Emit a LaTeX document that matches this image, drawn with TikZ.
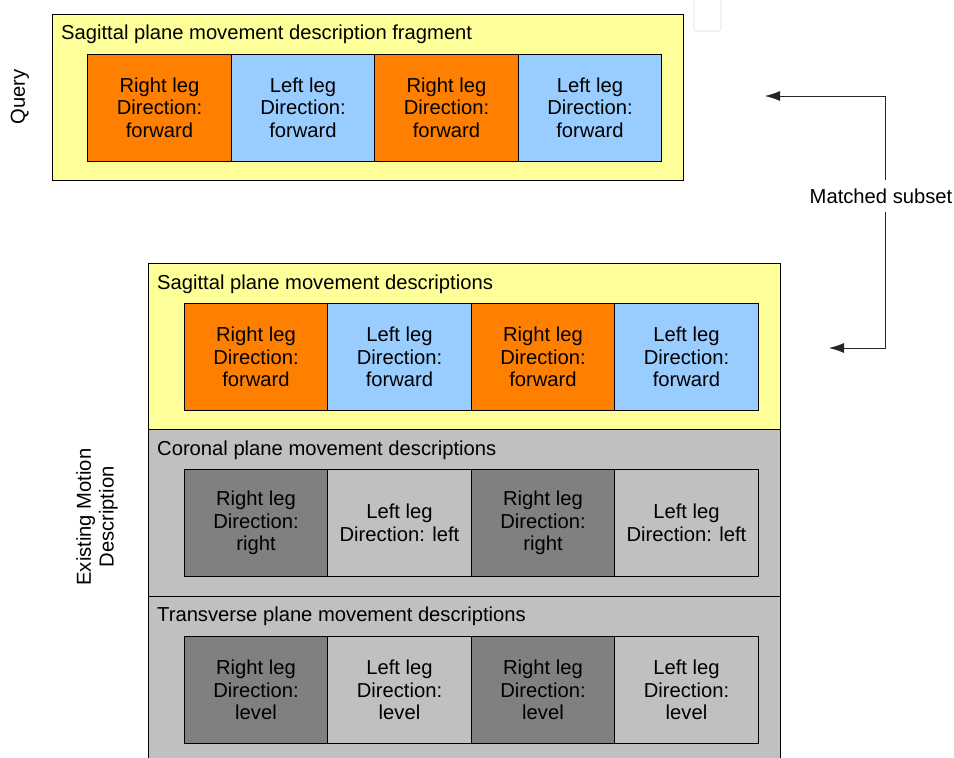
\documentclass[tikz,border=0pt]{standalone}
\usepackage{fontspec}
\setmainfont{Liberation Sans}
\usetikzlibrary{arrows.meta}
\definecolor{pyellow}{HTML}{FFFF99}
\definecolor{porange}{HTML}{FF8000}
\definecolor{pblue}{HTML}{99CCFF}
\definecolor{pdark}{HTML}{808080}
\definecolor{plight}{HTML}{C0C0C0}
\tikzset{
  cell/.style={draw=black, line width=0.8pt, minimum width=143.5pt, minimum height=107pt, align=center, inner sep=0pt, font=\fontsize{20.2}{22.7}\selectfont},
  panel/.style={draw=black, line width=0.8pt, anchor=north west, inner sep=0pt},
  ttl/.style={anchor=base west, font=\fontsize{20.2}{22.7}\selectfont, inner sep=0pt},
  lbl/.style={font=\fontsize{20.2}{22.7}\selectfont, align=center, inner sep=0pt},
  conn/.style={draw=black!85, line width=0.8pt, -{Latex[length=15pt,width=10pt]}}
}
\begin{document}
\begin{tikzpicture}[x=1pt,y=-1pt]
\useasboundingbox (0,0) rectangle (954,758);
\clip (0,0) rectangle (954,758);
% faint artifact
\draw[draw=black!8, line width=1.2pt, rounded corners=3pt] (694,-5) rectangle (721,31);
% Query panel
\node[panel, fill=pyellow, minimum width=631pt, minimum height=166pt] (qpanel) at (52,14) {};
\node[ttl] (qtitle) at (61,39) {Sagittal plane movement description fragment};
\node[cell, fill=porange] (q1) at (159.5,107.5) {Right leg\\Direction:\\forward};
\node[cell, fill=pblue]   (q2) at (303,107.5) {Left leg\\Direction:\\forward};
\node[cell, fill=porange] (q3) at (446.5,107.5) {Right leg\\Direction:\\forward};
\node[cell, fill=pblue]   (q4) at (590,107.5) {Left leg\\Direction:\\forward};
\node[lbl, rotate=90] (qlabel) at (20,97) {Query};
% Existing panels
\node[panel, fill=pyellow, minimum width=632pt, minimum height=166pt] (spanel) at (148,263) {};
\node[panel, fill=plight, minimum width=632pt, minimum height=167pt] (cpanel) at (148,429) {};
\node[panel, fill=plight, minimum width=632pt, minimum height=180pt] (tpanel) at (148,596) {};
\node[ttl] (stitle) at (157,289) {Sagittal plane movement descriptions};
\node[ttl] (ctitle) at (157,455) {Coronal plane movement descriptions};
\node[ttl] (ttitle) at (157,621) {Transverse plane movement descriptions};
\node[cell, fill=porange] (s1) at (256,357) {Right leg\\Direction:\\forward};
\node[cell, fill=pblue]   (s2) at (399.5,357) {Left leg\\Direction:\\forward};
\node[cell, fill=porange] (s3) at (543,357) {Right leg\\Direction:\\forward};
\node[cell, fill=pblue]   (s4) at (686.5,357) {Left leg\\Direction:\\forward};
\node[cell, fill=pdark]  (c1) at (256,523) {Right leg\\Direction:\\right};
\node[cell, fill=plight] (c2) at (399.5,523) {Left leg\\Direction: left};
\node[cell, fill=pdark]  (c3) at (543,523) {Right leg\\Direction:\\right};
\node[cell, fill=plight] (c4) at (686.5,523) {Left leg\\Direction: left};
\node[cell, fill=pdark]  (t1) at (256,690) {Right leg\\Direction:\\level};
\node[cell, fill=plight] (t2) at (399.5,690) {Left leg\\Direction:\\level};
\node[cell, fill=pdark]  (t3) at (543,690) {Right leg\\Direction:\\level};
\node[cell, fill=plight] (t4) at (686.5,690) {Left leg\\Direction:\\level};
\node[lbl, rotate=90] (elabel) at (97,517) {Existing Motion\\Description};
% Matched subset
\node[lbl] (ms) at (881,196) {Matched subset};
\coordinate (qtip) at (765,96);
\coordinate (stip) at (829,348);
\draw[conn] (ms.north -| 885,0) ++(0,-8) |- (qtip);
\draw[conn] (ms.south -| 885,0) ++(0,8) |- (stip);
\end{tikzpicture}
\end{document}
